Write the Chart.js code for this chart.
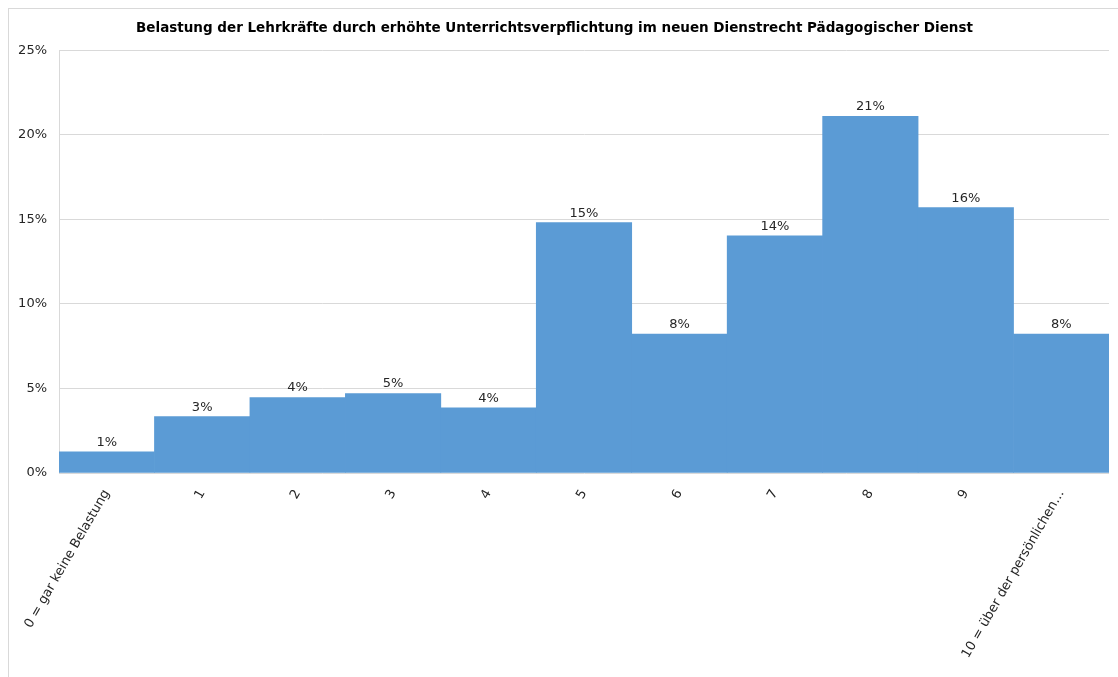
<!DOCTYPE html>
<html>
<head>
<meta charset="utf-8">
<script src="https://cdn.jsdelivr.net/npm/chart.js@4/dist/chart.umd.min.js"></script>
<style>
  html, body { margin: 0; padding: 0; background: #fff; overflow: hidden; width: 1118px; height: 677px; }
  #frame { position: absolute; left: 8px; top: 8px; width: 1300px; height: 900px; border: 1px solid #d9d9d9; }
  #c { position: absolute; left: 0; top: 0; }
</style>
</head>
<body>
<div id="frame"></div>
<canvas id="c" width="1118" height="677"></canvas>
<script>
const chartTitle = "Belastung der Lehrkräfte durch erhöhte Unterrichtsverpflichtung im neuen Dienstrecht Pädagogischer Dienst";
const categories = ["0 = gar keine Belastung", "1", "2", "3", "4", "5", "6", "7", "8", "9", "10 = über der persönlichen…"];
const shares = [1.25, 3.33, 4.46, 4.70, 3.86, 14.80, 8.22, 14.03, 21.09, 15.69, 8.22];
const yTicks = [0, 5, 10, 15, 20, 25];

const textColor = '#262626';
const fontFamily = '"DejaVu Sans", "Liberation Sans", Arial, sans-serif';

const valueLabels = {
  id: 'valueLabels',
  afterDatasetsDraw(chart) {
    const ctx = chart.ctx;
    const meta = chart.getDatasetMeta(0);
    ctx.save();
    ctx.font = '13px ' + fontFamily;
    ctx.fillStyle = textColor;
    ctx.textAlign = 'center';
    ctx.textBaseline = 'bottom';
    meta.data.forEach((bar, i) => {
      const v = chart.data.datasets[0].data[i];
      ctx.fillText(Math.round(v) + '%', bar.x, bar.y - 3);
    });
    ctx.restore();
  }
};

new Chart(document.getElementById('c'), {
  type: 'bar',
  data: {
    labels: categories,
    datasets: [{
      data: shares,
      backgroundColor: '#5B9BD5',
      borderWidth: 0,
      barPercentage: 1.0,
      categoryPercentage: 1.0
    }]
  },
  options: {
    responsive: false,
    animation: false,
    devicePixelRatio: 1,
    layout: { padding: { left: 0, right: 9, top: 0, bottom: 0 } },
    plugins: {
      legend: { display: false },
      tooltip: { enabled: false },
      title: {
        display: true,
        text: chartTitle,
        color: '#000',
        font: { family: fontFamily, size: 13.5, weight: 'bold' },
        padding: { top: 20, bottom: 14 }
      }
    },
    scales: {
      x: {
        grid: { display: false, drawTicks: false },
        border: { display: false },
        ticks: {
          color: textColor,
          font: { family: fontFamily, size: 13 },
          minRotation: 60,
          maxRotation: 60,
          autoSkip: false,
          padding: 14
        },
        afterFit(scale) { scale.height = 204; }
      },
      y: {
        min: 0,
        max: 25,
        afterBuildTicks(scale) { scale.ticks = yTicks.map(v => ({ value: v })); },
        grid: { color: '#d9d9d9', drawTicks: false, lineWidth: 1 },
        border: { display: true, color: '#d9d9d9' },
        ticks: {
          color: textColor,
          font: { family: fontFamily, size: 13 },
          padding: 12,
          callback: v => v + '%'
        },
        afterFit(scale) { scale.width = 59; }
      }
    }
  },
  plugins: [valueLabels]
});
</script>
</body>
</html>
